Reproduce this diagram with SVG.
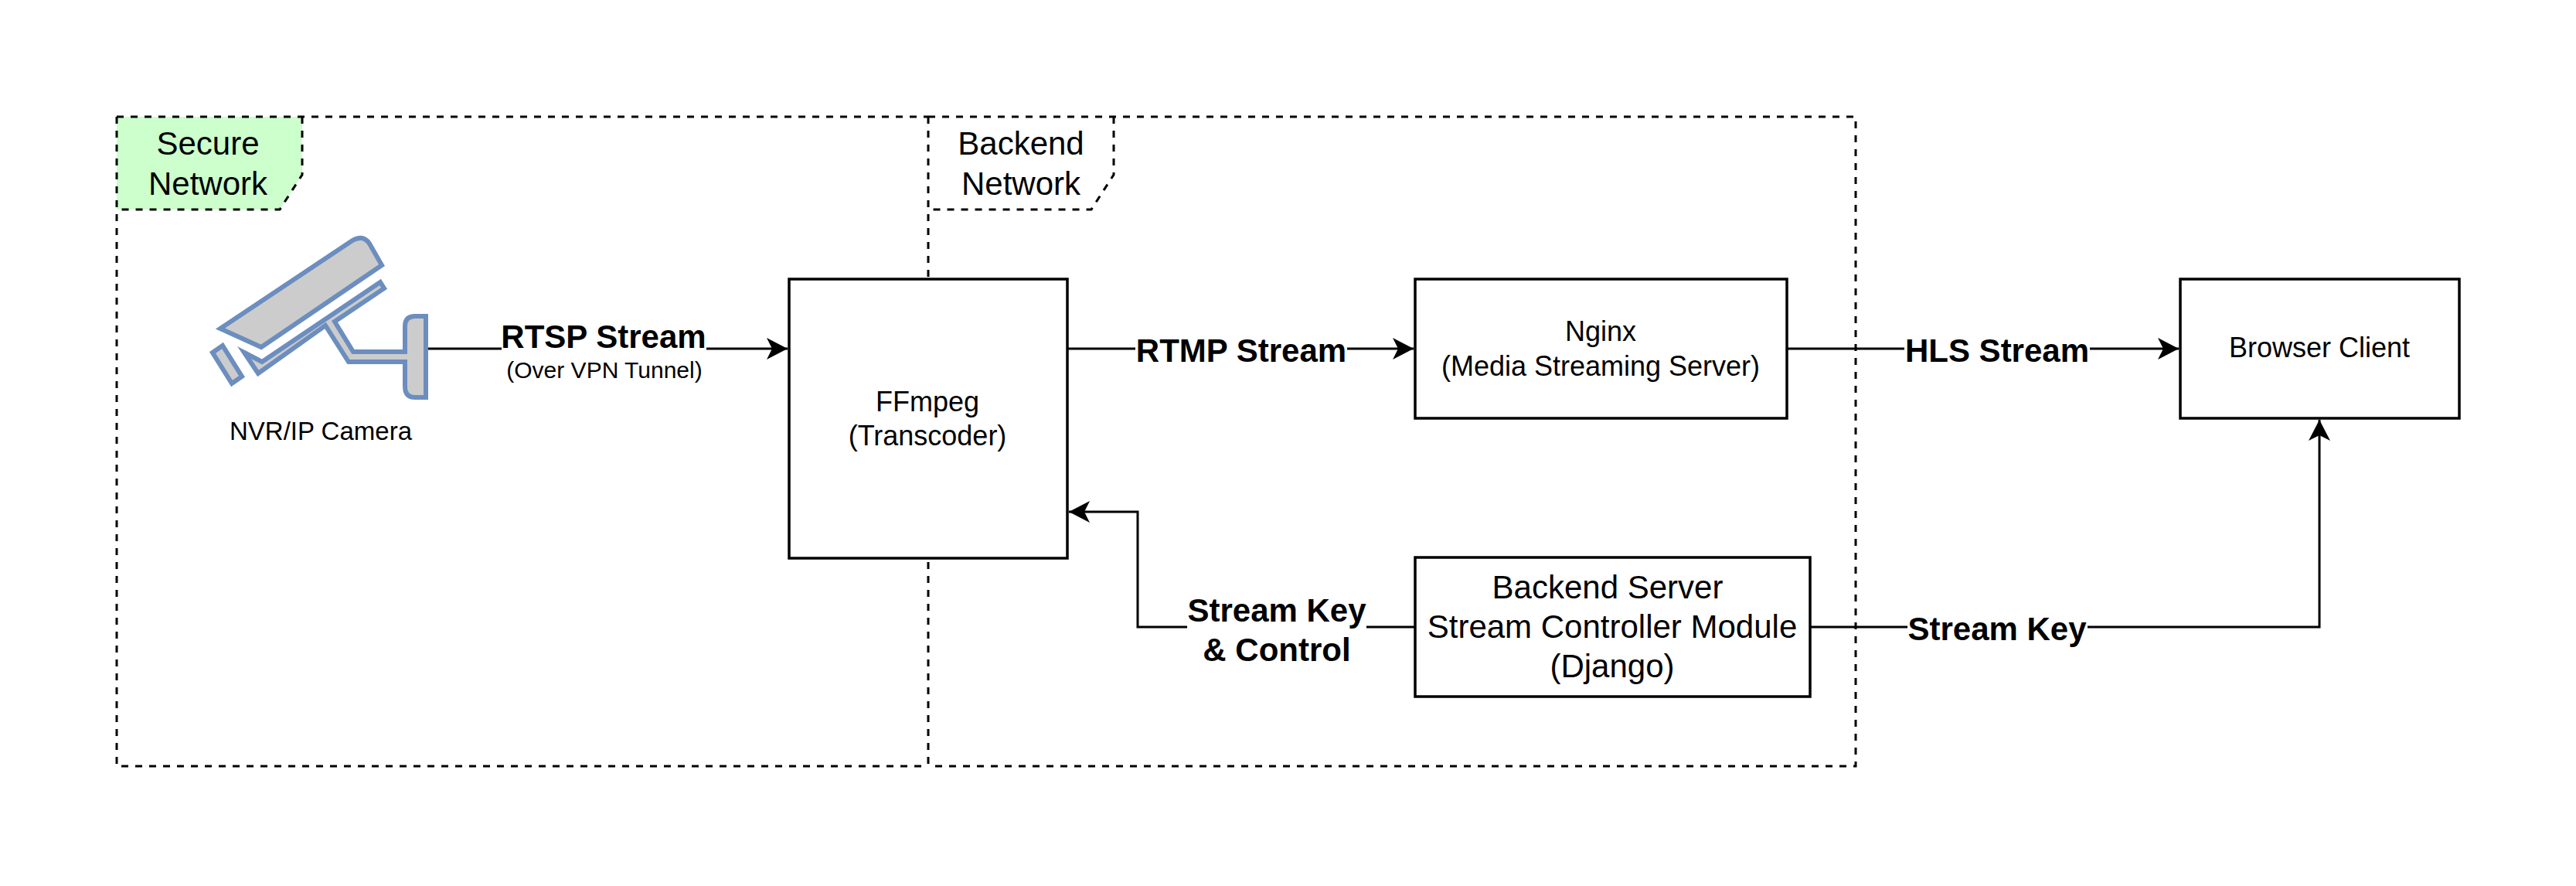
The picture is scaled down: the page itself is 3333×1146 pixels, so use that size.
<svg xmlns="http://www.w3.org/2000/svg" width="3333" height="1146" viewBox="0 0 3333 1146">
  <style>
    text { font-family: "Liberation Sans", Arial, sans-serif; fill: #000; text-anchor: middle; }
    .s42 { font-size: 42px; }
    .s36 { font-size: 36px; }
    .s33 { font-size: 33px; }
    .s30 { font-size: 30px; }
    .b { font-weight: bold; }
    .frame { fill: none; stroke: #000; stroke-width: 3; stroke-dasharray: 9 9; }
    .box { fill: #fff; stroke: #000; stroke-width: 3.5; }
    .edge { fill: none; stroke: #000; stroke-width: 3; }
    .cam { fill: #ccc; stroke: #6c8ebf; stroke-width: 6; stroke-linejoin: miter; stroke-miterlimit: 10; }
    .mask { fill: #fff; stroke: none; }
  </style>
  <defs>
    <marker id="arrow" markerUnits="userSpaceOnUse" markerWidth="30" markerHeight="30" refX="27" refY="14" orient="auto">
      <path d="M0 0 L27 14 L0 28 L7 14 Z" fill="#000"/>
    </marker>
  </defs>
  <rect width="3333" height="1146" fill="#fff"/>

  <g id="secure-network">
    <path d="M151 151 H391 V226 L362 271 H151 Z" fill="#ccffcc"/>
    <path class="frame" d="M151 151 H1201 M151 151 V991 H1201"/>
    <path class="frame" d="M391 151 V226 L362 271 H151"/>
    <text class="s42" x="269" y="200">Secure</text>
    <text class="s42" x="269" y="252">Network</text>
  </g>
  <g id="backend-network">
    <path class="frame" d="M1201 151 V991 M1201 151 H2401 V991 H1201"/>
    <path class="frame" d="M1441 151 V226 L1412 271 H1201"/>
    <text class="s42" x="1321" y="200">Backend</text>
    <text class="s42" x="1321" y="252">Network</text>
  </g>

  <g id="connectors">
    <path class="edge" d="M554 451 H1019" marker-end="url(#arrow)"/>
    <rect class="mask" x="649" y="415" width="265" height="48"/>
    <text class="s42 b" x="781" y="450">RTSP Stream</text>
    <text class="s30" x="782" y="489">(Over VPN Tunnel)</text>

    <path class="edge" d="M1381 451 H1829" marker-end="url(#arrow)"/>
    <rect class="mask" x="1469" y="430" width="274" height="48"/>
    <text class="s42 b" x="1606" y="468">RTMP Stream</text>

    <path class="edge" d="M2313 451 H2819" marker-end="url(#arrow)"/>
    <rect class="mask" x="2464" y="430" width="240" height="48"/>
    <text class="s42 b" x="2584" y="468">HLS Stream</text>

    <path class="edge" d="M1831 811 H1472 V662 H1383" marker-end="url(#arrow)"/>
    <rect class="mask" x="1536" y="770" width="232" height="96"/>
    <text class="s42 b" x="1652" y="804">Stream Key</text>
    <text class="s42 b" x="1652" y="855">&amp; Control</text>

    <path class="edge" d="M2342 811 H3001 V543" marker-end="url(#arrow)"/>
    <rect class="mask" x="2468" y="790" width="233" height="48"/>
    <text class="s42 b" x="2584" y="828">Stream Key</text>
  </g>

  <g id="camera">
    <path class="cam" d="M285 425 L456 311 Q470 303 478 315 L494 343 L338 449 Z"/>
    <path class="cam" d="M316 456 L339 468 L492 365 L497 373 L433 416 L457 455 H524 V422 Q524 409 537 409 H551 V514 H537 Q524 514 524 500 V468 H451 L421 421 L334 483 Z"/>
    <path class="cam" d="M275 456 L288 447 L313 487 L300 496 Z"/>
    <text class="s33" x="415" y="569">NVR/IP Camera</text>
  </g>
  <g id="ffmpeg">
    <rect class="box" x="1021" y="361" width="360" height="361"/>
    <text class="s36" x="1200" y="532">FFmpeg</text>
    <text class="s36" x="1200" y="576">(Transcoder)</text>
  </g>
  <g id="nginx">
    <rect class="box" x="1831" y="361" width="481" height="180"/>
    <text class="s36" x="2071" y="441">Nginx</text>
    <text class="s36" x="2071" y="486">(Media Streaming Server)</text>
  </g>
  <g id="backend-server">
    <rect class="box" x="1831" y="721" width="511" height="180"/>
    <text class="s42" x="2080" y="774">Backend Server</text>
    <text class="s42" x="2086" y="825">Stream Controller Module</text>
    <text class="s42" x="2086" y="876">(Django)</text>
  </g>
  <g id="browser-client">
    <rect class="box" x="2821" y="361" width="361" height="180"/>
    <text class="s36" x="3001" y="462">Browser Client</text>
  </g>
</svg>
